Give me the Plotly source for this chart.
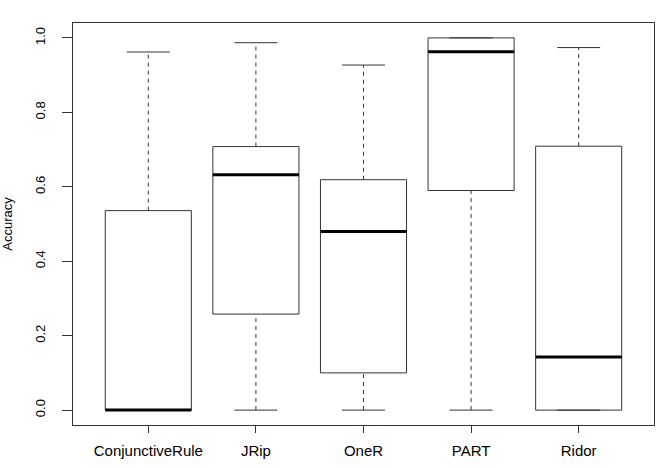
import plotly.graph_objects as go

categories = ["ConjunctiveRule", "JRip", "OneR", "PART", "Ridor"]
lower_whisker = [0.0, 0.0, 0.0, 0.0, 0.0]
q1 = [0.0, 0.258, 0.100, 0.590, 0.0]
median = [0.0, 0.632, 0.480, 0.963, 0.143]
q3 = [0.536, 0.708, 0.619, 1.0, 0.709]
upper_whisker = [0.962, 0.987, 0.927, 1.0, 0.974]
y_ticks = [0.0, 0.2, 0.4, 0.6, 0.8, 1.0]

BOX_HALF = 0.4
CAP_HALF = 0.2
LINE = "#333333"

pos = list(range(1, len(categories) + 1))

bx, by = [], []
mx, my = [], []
wx, wy = [], []
cx, cy = [], []
for i, p in enumerate(pos):
    bx += [p - BOX_HALF, p + BOX_HALF, p + BOX_HALF, p - BOX_HALF, p - BOX_HALF, None]
    by += [q1[i], q1[i], q3[i], q3[i], q1[i], None]
    mx += [p - BOX_HALF, p + BOX_HALF, None]
    my += [median[i], median[i], None]
    wx += [p, p, None, p, p, None]
    wy += [q3[i], upper_whisker[i], None, lower_whisker[i], q1[i], None]
    cx += [p - CAP_HALF, p + CAP_HALF, None, p - CAP_HALF, p + CAP_HALF, None]
    cy += [upper_whisker[i], upper_whisker[i], None, lower_whisker[i], lower_whisker[i], None]

fig = go.Figure()
fig.add_trace(go.Scatter(x=wx, y=wy, mode="lines",
                         line=dict(color=LINE, width=1, dash="4px,4px"), hoverinfo="skip"))
fig.add_trace(go.Scatter(x=cx, y=cy, mode="lines",
                         line=dict(color=LINE, width=1), hoverinfo="skip"))
fig.add_trace(go.Scatter(x=bx, y=by, mode="lines",
                         line=dict(color=LINE, width=1), hoverinfo="skip"))
fig.add_trace(go.Scatter(x=mx, y=my, mode="lines",
                         line=dict(color="black", width=3), hoverinfo="skip"))

font_family = "Liberation Sans, Arial, Helvetica, sans-serif"
fig.update_layout(
    width=658, height=468,
    margin=dict(l=73, r=4, t=23, b=43),
    plot_bgcolor="white", paper_bgcolor="white",
    showlegend=False,
    font=dict(family=font_family, color="black"),
    xaxis=dict(
        range=[0.3, 5.7], tickmode="array", tickvals=pos, ticktext=categories,
        ticks="outside", ticklen=7, tickcolor=LINE, tickwidth=1,
        showline=True, linecolor=LINE, linewidth=1, mirror=True,
        showgrid=False, zeroline=False,
        tickfont=dict(size=15, family=font_family, color="black"),
        ticklabelstandoff=5,
    ),
    yaxis=dict(
        range=[-0.04, 1.04], tickmode="array", tickvals=y_ticks,
        tickformat=".1f", tickangle=-90,
        ticks="outside", ticklen=10, tickcolor=LINE, tickwidth=1,
        showline=True, linecolor=LINE, linewidth=1, mirror=True,
        showgrid=False, zeroline=False,
        tickfont=dict(size=13, family=font_family, color="black"),
        ticklabelstandoff=12,
        title=dict(text="Accuracy", font=dict(size=13, family=font_family, color="black"),
                   standoff=20),
    ),
)

fig.write_html("out.html")
